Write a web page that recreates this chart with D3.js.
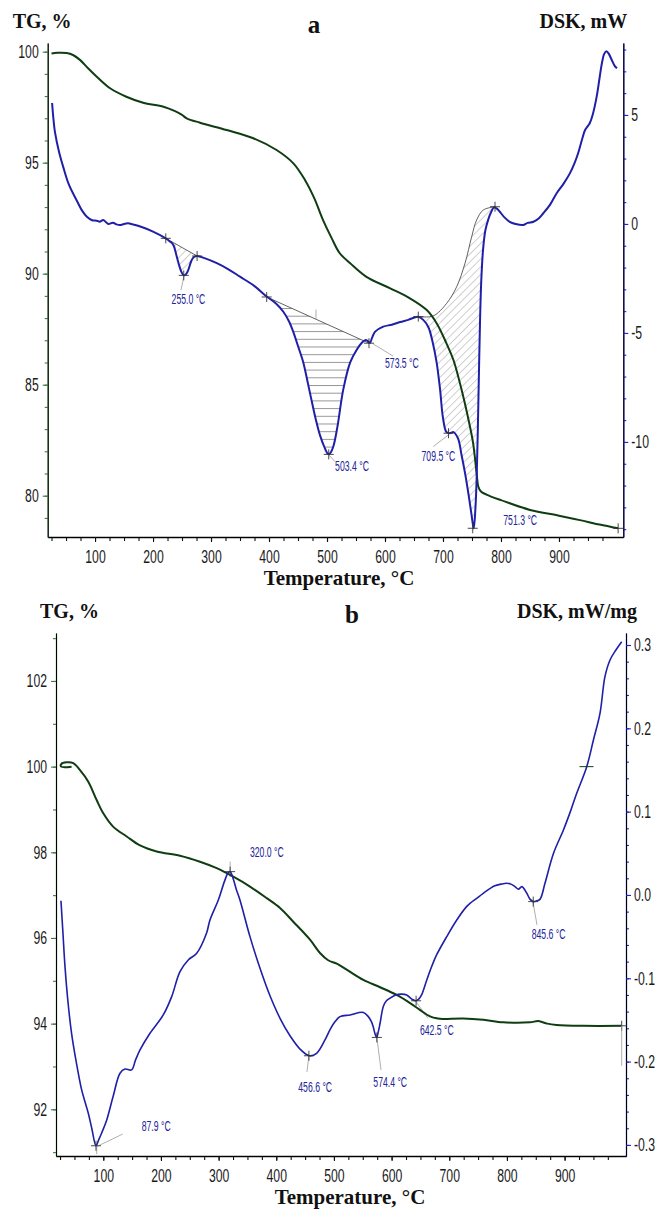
<!DOCTYPE html>
<html>
<head>
<meta charset="utf-8">
<script src="https://cdn.jsdelivr.net/npm/d3@7"></script>
<style>
  body { margin: 0; background: #fff; }
  svg text { font-family: "Liberation Sans", Arial, sans-serif; }
  .title { font-family: "Liberation Serif", "Times New Roman", serif; font-weight: bold; fill: #111; }
</style>
</head>
<body>
<svg id="chart" width="659" height="1213"></svg>
<script>
// ---- panel a : TG (%) and DSK (mW) vs temperature ----
const tgA = [
  [25, 99.92], [35, 99.95], [51, 99.94], [62, 99.85], [74, 99.63], [88, 99.25], [103, 98.87],
  [126, 98.35], [154, 97.97], [183, 97.70], [218, 97.52], [238, 97.32], [250, 97.15], [258, 97.0],
  [281, 96.80], [327, 96.47], [373, 96.10], [413, 95.57], [442, 94.97], [462, 94.22], [478, 93.4],
  [493, 92.42], [508, 91.6], [522, 90.92], [540, 90.47], [568, 89.86], [609, 89.34], [643, 88.89],
  [672, 88.36], [689, 87.77], [706, 86.86], [718, 86.11], [735, 84.46], [745, 83.3], [752, 82.36],
  [758, 81.0], [761, 80.4], [765, 80.2], [775, 80.05], [800, 79.8], [850, 79.36], [900, 79.1],
  [936, 78.9], [970, 78.7], [1002, 78.53]
];
const dskA = [
  [26, 5.55], [28, 4.9], [31, 4.2], [38, 3.3], [45, 2.63], [55, 1.8], [68, 1.1], [78, 0.6], [86, 0.33],
  [95, 0.17], [103, 0.15], [108, 0.1], [114, 0.18], [119, 0.08], [123, 0.0], [131, 0.06], [137, -0.02],
  [143, -0.05], [150, 0.0], [157, 0.03], [165, -0.02], [178, -0.12], [200, -0.35], [222, -0.66],
  [229, -0.8], [235, -0.96], [240, -1.4], [244, -1.8], [249, -2.2], [253, -2.36], [257, -2.3],
  [261, -2.1], [266, -1.7], [270, -1.53], [276, -1.47], [290, -1.58], [310, -1.8], [330, -2.08],
  [350, -2.42], [375, -2.85], [396, -3.33], [412, -3.65], [425, -4.04], [435, -4.5], [442, -4.96],
  [450, -5.6], [459, -6.34], [467, -7.3], [474, -8.17], [481, -9.0], [488, -9.7], [495, -10.2],
  [502, -10.55], [506, -10.5], [511, -10.2], [518, -9.3], [528, -7.6], [540, -6.35], [551, -5.78],
  [560, -5.45], [566, -5.33], [570, -5.36], [574, -5.45], [578, -5.2], [583, -4.94], [597, -4.71],
  [612, -4.62], [626, -4.5], [640, -4.4], [657, -4.26], [666, -4.4], [675, -4.75], [682, -5.4],
  [689, -6.35], [695, -7.6], [700, -8.9], [706, -9.55], [712, -9.6], [718, -9.55], [726, -9.85],
  [732, -10.6], [738, -11.43], [744, -12.4], [749, -13.3], [753, -13.96], [756, -13.0], [758, -11.7],
  [760, -9.5], [762, -6.8], [764, -4.3], [766, -2.6], [769, -1.2], [773, -0.3], [778, 0.2], [783, 0.55],
  [788, 0.76], [793, 0.7], [798, 0.56], [806, 0.3], [815, 0.1], [825, 0.0], [838, -0.05], [846, 0.05],
  [856, 0.1], [865, 0.25], [873, 0.49], [885, 0.9], [896, 1.41], [908, 1.85], [919, 2.33], [927, 2.8],
  [933, 3.24], [940, 3.9], [945, 4.31], [950, 4.5], [953, 4.62], [958, 5.0], [965, 5.84], [970, 6.7],
  [974, 7.37], [978, 7.8], [982, 7.92], [986, 7.8], [991, 7.52], [996, 7.25], [1000, 7.14]
];
// integration baselines of the three DSK effects
const baseA1 = [[222, -0.66], [276, -1.47]];
const baseA2 = [[396, -3.35], [572.4, -5.47]];
const baseA3 = [[657.4, -4.25], [683, -4.22], [706.4, -3.64], [723.6, -2.88], [738, -1.8],
  [749.5, -0.58], [758, 0.18], [769.5, 0.64], [789.7, 0.79]];
const peakTextA = ["255.0 °C", "503.4 °C", "573.5 °C", "709.5 °C", "751.3 °C"];
const peakAtA = [[232, -3.65], [514, -11.35], [600, -6.63], [663, -10.87], [804, -13.81]];
const crossA = [[222, -0.66], [276, -1.47], [253, -2.36], [396, -3.35], [572.4, -5.47], [503, -10.57],
  [657.4, -4.25], [709.5, -9.6], [751.3, -13.96], [789.7, 0.79]];
const leaderA = [[[253, -2.43], [248.3, -3.03]], [[503.4, -10.6], [513.8, -10.9]],
  [[579.3, -5.5], [613.8, -6.06]], [[709.1, -9.68], [683.3, -10.21]]];

// ---- panel b : TG (%) and DSK (mW/mg) vs temperature ----
const tgB = [
  [45, 100.0], [27, 100.0], [27, 100.06], [36.5, 100.1], [48, 100.08], [59.6, 99.92], [74, 99.65],
  [88.5, 99.22], [100, 98.91], [117, 98.6], [140.6, 98.37], [163.7, 98.16], [192.6, 98.02],
  [233, 97.92], [267.7, 97.78], [296.7, 97.63], [325.5, 97.43], [354.4, 97.2], [383.4, 96.93],
  [406.5, 96.7], [429.5, 96.38], [458.5, 95.96], [475.8, 95.65], [490, 95.48], [505, 95.4],
  [522, 95.26], [551, 95.02], [580, 94.85], [608.8, 94.67], [632, 94.48], [649, 94.32],
  [666.6, 94.17], [680, 94.12], [689.7, 94.11], [724, 94.12], [759, 94.09], [793.7, 94.03],
  [840, 94.03], [854.4, 94.06], [870, 94.0], [886, 93.97], [932.6, 93.95], [999, 93.95]
];
const dskB = [
  [26.6, -0.007], [30, -0.045], [33.6, -0.086], [39, -0.13], [45, -0.166], [53, -0.2], [62.5, -0.234],
  [69, -0.25], [74, -0.262], [80, -0.28], [87.3, -0.301], [92, -0.294], [97, -0.286], [106, -0.27],
  [117, -0.242], [129, -0.214], [137.6, -0.209], [149, -0.21], [156, -0.198], [163.7, -0.186],
  [181, -0.166], [204, -0.144], [218.6, -0.122], [233, -0.092], [247.4, -0.078], [262, -0.07],
  [279, -0.046], [285, -0.03], [299.5, -0.006], [310, 0.016], [316, 0.026], [320, 0.028], [325, 0.02],
  [331, 0.006], [337, -0.006], [354.4, -0.05], [371.8, -0.088], [389.1, -0.121], [406.5, -0.148],
  [423.8, -0.169], [441.2, -0.185], [457.3, -0.193], [470, -0.19], [484.5, -0.174], [493, -0.162],
  [502, -0.152], [510.5, -0.146], [528, -0.144], [551, -0.141], [559.6, -0.146], [565, -0.152],
  [568, -0.158], [571, -0.166], [574, -0.171], [577, -0.164], [580, -0.154], [585.6, -0.134],
  [591, -0.127], [597, -0.124], [607, -0.12], [617.5, -0.119], [626, -0.12], [635, -0.125],
  [642.3, -0.127], [647, -0.125], [652, -0.12], [661, -0.102], [670, -0.085], [678, -0.072],
  [695.6, -0.05], [713, -0.03], [730, -0.014], [736, -0.01], [747.6, -0.004], [759, 0.002],
  [779, 0.011], [790, 0.013], [799.6, 0.014], [807, 0.013], [814, 0.01], [820, 0.007], [826, 0.01],
  [834.5, 0.002], [840, -0.005], [846, -0.008], [852, -0.007], [857.6, -0.005], [866, 0.014],
  [880.8, 0.05], [898, 0.078], [910, 0.1], [921, 0.122], [938.4, 0.154], [950, 0.186], [961.4, 0.218],
  [970, 0.262], [978.8, 0.282], [989, 0.294], [999, 0.304]
];
const peakTextB = ["87.9 °C", "320.0 °C", "456.6 °C", "574.4 °C", "642.5 °C", "845.6 °C"];
const peakAtB = [[166.6, -0.2834], [354.4, 0.0458], [438.2, -0.236], [568.3, -0.2307], [649.2, -0.168], [843, -0.0534]];
const crossB = [[87.3, -0.301], [320, 0.028], [456.6, -0.193], [574.4, -0.171], [642.5, -0.127], [845.6, -0.008]];
const leaderB = [[[88.6, -0.302], [133.6, -0.287]], [[88.6, -0.302], [88.6, -0.311]], [[320, 0.028], [320, 0.04]],
  [[456.7, -0.193], [453.2, -0.2124]], [[574.2, -0.17], [581.7, -0.21]], [[642.3, -0.128], [663, -0.148]],
  [[845.2, -0.0084], [852.2, -0.036]]];

const ticksX = [100, 200, 300, 400, 500, 600, 700, 800, 900];
const ticksTgA = [80, 85, 90, 95, 100];
const ticksDskA = [-10, -5, 0, 5];
const ticksTgB = [92, 94, 96, 98, 100, 102];
const ticksDskB = [-0.3, -0.2, -0.1, 0.0, 0.1, 0.2, 0.3];

const BLUE = "#1f1fa8", GREEN = "#0f3d12", AXIS_GREEN = "#3f7a3f", AXIS_BLUE = "#2424c8";

var svg = d3.select("#chart");

var defs = svg.append("defs");
defs.append("pattern").attr("id", "diag").attr("patternUnits", "userSpaceOnUse")
  .attr("width", 5.5).attr("height", 5.5).attr("patternTransform", "rotate(45)")
  .append("line").attr("x1", 0).attr("y1", 0).attr("x2", 0).attr("y2", 5.5)
  .attr("stroke", "#8a8a8a").attr("stroke-width", 0.8);
defs.append("pattern").attr("id", "horiz").attr("patternUnits", "userSpaceOnUse")
  .attr("width", 8).attr("height", 7.7)
  .append("line").attr("x1", 0).attr("y1", 0.5).attr("x2", 8).attr("y2", 0.5)
  .attr("stroke", "#8a8a8a").attr("stroke-width", 0.9);

function squeeze(sel, k) {
  // the original software uses a strongly condensed face: scale glyphs horizontally
  sel.each(function() {
    var t = d3.select(this);
    var x0 = +t.attr("x") || 0;
    t.attr("x", x0 / k).attr("transform", "scale(" + k + ",1)");
  });
}

function styleAxis(g, color) {
  g.select(".domain").attr("stroke", color).attr("stroke-width", 1.3);
  g.selectAll(".tick line").attr("stroke", color).attr("stroke-width", 1.1);
  g.selectAll(".tick text").attr("fill", "#1a1a1a").attr("font-size", 18)
    .attr("font-family", "'Liberation Sans', Arial, sans-serif");
  squeeze(g.selectAll(".tick text"), 0.68);
}

function panel(c) {
  var g = svg.append("g");
  var x = d3.scaleLinear().domain(c.xDom).range([c.left, c.right]);
  var yT = d3.scaleLinear().domain(c.tgDom).range([c.bottom, c.top]);
  var yD = d3.scaleLinear().domain(c.dskDom).range([c.bottom, c.top]);
  var lineD = d3.line().x(function(p) { return x(p[0]); }).y(function(p) { return yD(p[1]); });
  var lineT = d3.line().x(function(p) { return x(p[0]); }).y(function(p) { return yT(p[1]); });

  // axes: minor ticks first, then labelled ticks
  var minorX = d3.range(25, 1000, 25);
  var gx = g.append("g").attr("transform", "translate(0," + c.bottom + ")");
  gx.append("g").call(d3.axisBottom(x).tickValues(minorX).tickSize(4).tickSizeOuter(0).tickFormat(""));
  gx.append("g").call(d3.axisBottom(x).tickValues(ticksX).tickSize(5).tickSizeOuter(0).tickPadding(8).tickFormat(d3.format("d")));
  styleAxis(gx, "#111");

  var gl = g.append("g").attr("transform", "translate(" + c.left + ",0)");
  gl.append("g").call(d3.axisLeft(yT).tickValues(c.tgMinor).tickSize(3).tickSizeOuter(0).tickFormat(""));
  gl.append("g").call(d3.axisLeft(yT).tickValues(c.tgTicks).tickSize(5).tickSizeOuter(0).tickPadding(4).tickFormat(c.tgFmt));
  styleAxis(gl, AXIS_GREEN);

  var gr = g.append("g").attr("transform", "translate(" + c.right + ",0)");
  gr.append("g").call(d3.axisRight(yD).tickValues(c.dskMinor).tickSize(3).tickSizeOuter(0).tickFormat(""));
  gr.append("g").call(d3.axisRight(yD).tickValues(c.dskTicks).tickSize(5).tickSizeOuter(0).tickPadding(3).tickFormat(c.dskFmt));
  styleAxis(gr, AXIS_BLUE);

  // hatched peak areas
  (c.hatches || []).forEach(function(h) {
    var seg = c.dsk.filter(function(p) { return p[0] >= h.from && p[0] <= h.to; });
    var pts = seg.concat(h.base.slice().reverse());
    g.append("path").attr("d", lineD(pts) + "Z").attr("fill", "url(#" + h.pattern + ")").attr("stroke", "none");
    g.append("path").attr("d", lineD.curve(d3.curveCatmullRom)(h.base)).attr("fill", "none")
      .attr("stroke", "#3a3a3a").attr("stroke-width", 0.8);
    lineD.curve(d3.curveLinear);
  });
  (c.baseTicks || []).forEach(function(p) {
    g.append("line").attr("x1", x(p[0])).attr("x2", x(p[0])).attr("y1", yD(p[1])).attr("y2", yD(p[1]) - 10)
      .attr("stroke", "#999").attr("stroke-width", 0.8);
  });

  // leader lines
  c.leaders.forEach(function(l) {
    g.append("line").attr("x1", x(l[0][0])).attr("y1", yD(l[0][1])).attr("x2", x(l[1][0])).attr("y2", yD(l[1][1]))
      .attr("stroke", "#9a9a9a").attr("stroke-width", 0.8);
  });

  // curves
  g.append("path").datum(c.tg).attr("fill", "none").attr("stroke", GREEN).attr("stroke-width", 2)
    .attr("d", lineT.curve(d3.curveCatmullRom.alpha(0.5)));
  g.append("path").datum(c.dsk).attr("fill", "none").attr("stroke", BLUE).attr("stroke-width", c.dskWidth)
    .attr("d", lineD.curve(d3.curveCatmullRom.alpha(0.5)));

  // crosses
  function cross(px, py, color) {
    g.append("path").attr("d", "M" + (px - 5) + "," + py + "H" + (px + 5) + "M" + px + "," + (py - 5) + "V" + (py + 5))
      .attr("stroke", color).attr("stroke-width", 0.9).attr("fill", "none");
  }
  c.crosses.forEach(function(p) { cross(x(p[0]), yD(p[1]), "#333"); });
  cross(x(c.tg[c.tg.length - 1][0]), yT(c.tg[c.tg.length - 1][1]), "#333");

  // peak labels
  var lab = g.selectAll(".peak").data(c.peakText).enter().append("text").attr("class", "peak")
    .attr("x", function(d, i) { return x(c.peakAt[i][0]); })
    .attr("y", function(d, i) { return yD(c.peakAt[i][1]); })
    .attr("font-size", 14).attr("fill", "#22229a")
    .text(function(d) { return d; });
  squeeze(lab, 0.62);

  // titles
  g.append("text").attr("class", "title").attr("x", c.left - c.tgTitleDx).attr("y", c.top - 15).attr("font-size", 20).text("TG, %");
  g.append("text").attr("class", "title").attr("x", c.letterX).attr("y", c.top - 10).attr("font-size", 25)
    .attr("text-anchor", "middle").text(c.letter);
  g.append("text").attr("class", "title").attr("x", c.right + c.dskTitleDx).attr("y", c.top - 15).attr("font-size", 20)
    .attr("text-anchor", "end").text(c.dskTitle);
  g.append("text").attr("class", "title").attr("x", c.xTitleX).attr("y", c.bottom + 48).attr("font-size", 21)
    .attr("text-anchor", "middle").text("Temperature, °C");
  return { g: g, x: x, yT: yT, yD: yD };
}

panel({
  left: 47.7, right: 623.3, top: 43, bottom: 537,
  xDom: [18.4, 1010.9], tgDom: [78.14, 100.39], dskDom: [-14.36, 8.30],
  tg: tgA, dsk: dskA, dskWidth: 2,
  tgTicks: ticksTgA, tgMinor: d3.range(79, 101, 1), tgFmt: d3.format("d"),
  dskTicks: ticksDskA, dskMinor: d3.range(-14, 9, 1), dskFmt: function(d) { return String(d); },
  hatches: [
    { from: 222, to: 276, base: baseA1, pattern: "diag" },
    { from: 396, to: 574, base: baseA2, pattern: "horiz" },
    { from: 657, to: 790, base: baseA3, pattern: "diag" }
  ],
  baseTicks: [[481, -4.39]],
  crosses: crossA, leaders: leaderA, peakText: peakTextA, peakAt: peakAtA,
  letter: "a", letterX: 314, dskTitle: "DSK, mW", tgTitleDx: 35, dskTitleDx: 4, xTitleX: 339
});

var pb = panel({
  left: 56, right: 626, top: 633, bottom: 1156,
  xDom: [18.0, 1006.5], tgDom: [90.91, 103.12], dskDom: [-0.3133, 0.3144],
  tg: tgB, dsk: dskB, dskWidth: 1.6,
  tgTicks: ticksTgB, tgMinor: d3.range(91, 104, 1), tgFmt: d3.format("d"),
  dskTicks: ticksDskB, dskMinor: d3.range(-15, 16, 1).map(function(i) { return i * 0.02; }),
  dskFmt: function(d) { return d.toFixed(1); },
  hatches: [], baseTicks: [],
  crosses: crossB, leaders: leaderB, peakText: peakTextB, peakAt: peakAtB,
  letter: "b", letterX: 352, dskTitle: "DSK, mW/mg", tgTitleDx: 16, dskTitleDx: 11, xTitleX: 350
});

// TG end of run marker and reference bar on panel b
var endB = tgB[tgB.length - 1];
pb.g.append("line").attr("x1", pb.x(endB[0])).attr("x2", pb.x(endB[0]))
  .attr("y1", pb.yT(endB[1])).attr("y2", pb.yT(endB[1]) + 40).attr("stroke", "#999").attr("stroke-width", 0.8);
pb.g.append("line").attr("x1", pb.x(938) - 7).attr("x2", pb.x(938) + 7)
  .attr("y1", pb.yT(100)).attr("y2", pb.yT(100)).attr("stroke", GREEN).attr("stroke-width", 1);
</script>
</body>
</html>
